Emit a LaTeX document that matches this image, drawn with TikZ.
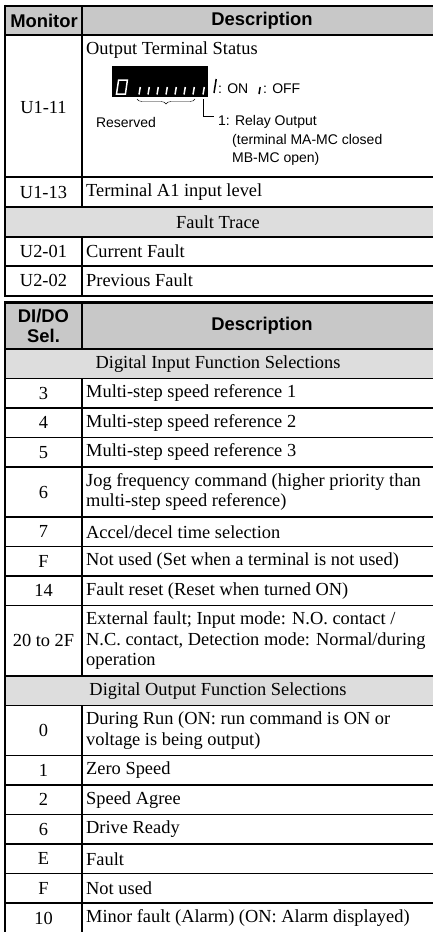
\documentclass[tikz,border=0pt]{standalone}
\usepackage{fontspec}
\setmainfont{Liberation Serif}
\setsansfont{Liberation Sans}
\usetikzlibrary{calc, positioning, decorations.pathreplacing}

\definecolor{hdrgray}{RGB}{200,200,200}
\definecolor{secgray}{RGB}{221,221,221}

\begin{document}
\begin{tikzpicture}[x=1pt, y=-1pt,
    body/.style={font=\fontsize{18.4}{20.5}\selectfont, inner sep=0pt},
    cellno/.style={body},
    celltxt/.style={body, anchor=west, align=left},
    hdrtxt/.style={font=\sffamily\bfseries\fontsize{18.4}{20}\selectfont, align=center, inner sep=0pt},
    dsp/.style={font=\sffamily\fontsize{14}{18}\selectfont, inner sep=0pt},
    grid/.style={line width=1.6pt},
    frame/.style={line width=2.8pt},
    seg/.style={white, line width=1.5pt},
  ]
  \useasboundingbox (0,0) rectangle (433,932);

  % shading
  \fill[hdrgray] (5,6) rectangle (433,35);
  \fill[secgray] (5,207) rectangle (433,237);
  \fill[hdrgray] (5,303) rectangle (433,349);
  \fill[secgray] (5,349) rectangle (433,378.5);
  \fill[secgray] (5,676) rectangle (433,705.5);

  % rules, first table
  \draw[frame] (5,6) -- (433,6);
  \draw[frame] (5,35) -- (433,35);
  \foreach \y in {177,207,237,266}
    \draw[grid] (5,\y) -- (433,\y);
  \draw[frame] (5,296) -- (433,296);
  \draw[frame] (5,4.6) -- (5,297.4);
  \draw[grid] (82,6) -- (82,207);
  \draw[grid] (82,237) -- (82,296);

  % rules, second table
  \draw[frame] (5,302.5) -- (433,302.5);
  \foreach \y in {349,378.5,408,437.5,467,517,546.5,576,605.5,676,705.5,755.5,785,814.5,844,873.5,903}
    \draw[grid] (5,\y) -- (433,\y);
  \draw[frame] (5,301.1) -- (5,932);
  \draw[grid] (82,302.5) -- (82,349);
  \draw[grid] (82,378.5) -- (82,676);
  \draw[grid] (82,705.5) -- (82,932);

  % headers
  \node[hdrtxt] (hmon) at (44,20.5) {Monitor};
  \node[hdrtxt] (hdesc) at (262,20.5) {Description};
  \node[hdrtxt] (hsel) at (43.5,326) {DI/DO\\Sel.};
  \node[hdrtxt] (hdesc2) at (262,326) {Description};

  % monitor rows
  \node[cellno] (u111) at (43.5,108) {U1-11};
  \node[celltxt] (ots) at (86,50) {Output Terminal Status};
  \node[cellno] (u113) at (43.5,192) {U1-13};
  \node[celltxt] (u113d) at (86,192) {Terminal A1 input level};
  \node[body] (ftrace) at (218,222) {Fault Trace};
  \node[cellno] (u201) at (43.5,251.5) {U2-01};
  \node[celltxt] (u201d) at (86,251.5) {Current Fault};
  \node[cellno] (u202) at (43.5,280.5) {U2-02};
  \node[celltxt] (u202d) at (86,280.5) {Previous Fault};

  % terminal status display
  \node[fill=black, minimum width=96pt, minimum height=31pt, inner sep=0pt] (disp) at (160,81.5) {};
  \draw[seg] (118,94) -- (116.5,94) -- (118.6,80) -- (127.4,80) -- (125.4,94) -- cycle;
  \foreach \x in {139,148,157,166,175,184,193}
    \draw[seg] (\x,94.5) -- (\x+1.3,87);
  \draw[seg] (203,94.5) -- (204.3,87);
  \draw[line width=1.5pt] (214,93) -- (216.2,79);
  \node[dsp, anchor=west] (on) at (218,89) {: ON};
  \draw[line width=1.5pt] (259,94) -- (260.2,87);
  \node[dsp, anchor=west] (off) at (263,89) {: OFF};
  \draw[decorate, decoration={brace, amplitude=5pt, mirror}] (137,99) -- (195,99);
  \node[dsp] (resv) at (126,122) {Reserved};
  \draw[line width=0.8pt] (203,99) -- (203,116) -- (214,116);
  \node[dsp, anchor=west] (relay) at (218,122) {1: Relay Output};
  \node[dsp, anchor=north west, align=left] (relayb) at (232,134) {(terminal MA-MC closed\\MB-MC open)};

  % selection rows
  \node[body] (dinsel) at (218,363.75) {Digital Input Function Selections};
  \foreach \no/\desc/\yc [count=\i] in {
      3/{Multi-step speed reference 1}/393.25,
      4/{Multi-step speed reference 2}/422.75,
      5/{Multi-step speed reference 3}/452.25,
      6/{Jog frequency command (higher priority than\\multi-step speed reference)}/492,
      7/{Accel/decel time selection}/531.75,
      F/{Not used (Set when a terminal is not used)}/561.25,
      14/{Fault reset (Reset when turned ON)}/590.75,
      20 to 2F/{External fault; Input mode: N.O. contact /\\N.C. contact, Detection mode: Normal/during\\operation}/640.75}
  {
    \node[cellno] (di\i) at (43.5,\yc) {\no};
    \node[celltxt] (did\i) at (86,\yc) {\desc};
  }
  \node[body] (doutsel) at (218,690.75) {Digital Output Function Selections};
  \foreach \no/\desc/\yc [count=\i] in {
      0/{During Run (ON: run command is ON or\\voltage is being output)}/730.5,
      1/{Zero Speed}/770.25,
      2/{Speed Agree}/799.75,
      6/{Drive Ready}/829.25,
      E/{Fault}/858.75,
      F/{Not used}/888.25,
      10/{Minor fault (Alarm) (ON: Alarm displayed)}/918}
  {
    \node[cellno] (do\i) at (43.5,\yc) {\no};
    \node[celltxt] (dod\i) at (86,\yc) {\desc};
  }
\end{tikzpicture}
\end{document}
